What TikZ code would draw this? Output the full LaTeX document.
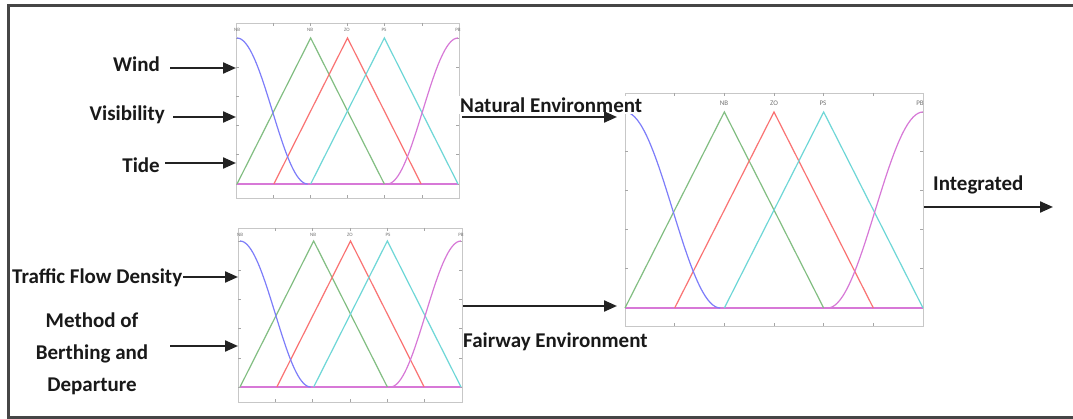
\documentclass[tikz,border=0pt]{standalone}
\usepackage{fontspec}
\setmainfont{Carlito}
\usetikzlibrary{arrows.meta}
\definecolor{mfB}{RGB}{125,125,250}
\definecolor{mfG}{RGB}{130,190,130}
\definecolor{mfR}{RGB}{250,115,115}
\definecolor{mfC}{RGB}{110,215,215}
\definecolor{mfM}{RGB}{215,120,215}
\definecolor{brd}{RGB}{70,70,70}
\definecolor{arrc}{RGB}{35,35,35}
\newcommand\mfplot[4]{% left, right, peak y, base y (px, y down)
  \pgfmathsetmacro\mfW{#2-#1}\pgfmathsetmacro\mfH{#4-#3}
  \draw[mfm] (#1,#4) -- (#2,#4);
  \draw[mfg] (#1,#4) -- ({#1+\mfW/3},#3) -- ({#1+2*\mfW/3},#4);
  \draw[mfr] ({#1+\mfW/6},#4) -- ({#1+\mfW/2},#3) -- ({#1+5*\mfW/6},#4);
  \draw[mfc] ({#1+\mfW/3},#4) -- ({#1+2*\mfW/3},#3) -- (#2,#4);
  \draw[mfb] plot[domain=0:0.32,samples=40,smooth] ({#1+\mfW*\x},{#4-\mfH*(0.5+0.5*cos(180*\x/0.32))});
  \draw[mfm] plot[domain=0:0.32,samples=40,smooth] ({#1+\mfW*(0.68+\x)},{#4-\mfH*(0.5-0.5*cos(180*\x/0.32))});
}
\newcommand\mfticks[6]{% left, right, top, bottom, peak, base
  \pgfmathsetmacro\mfW{#2-#1}\pgfmathsetmacro\mfH{#6-#5}
  \foreach \k in {1,...,5}{
    \draw[tick] ({#1+\mfW*\k/6},#3) -- ++(0,3);
    \draw[tick] ({#1+\mfW*\k/6},#4) -- ++(0,-3);
  }
  \foreach \k in {0,...,5}{
    \draw[tick] (#1,{#6-\mfH*\k/5}) -- ++(3,0);
    \draw[tick] (#2,{#6-\mfH*\k/5}) -- ++(-3,0);
  }
}
\begin{document}
\begin{tikzpicture}[x=1pt,y=-1pt,
  lbl/.style={font=\fontsize{21}{25}\selectfont\bfseries, inner sep=0pt, text=black!90},
  arr/.style={-{Triangle[length=13pt,width=11pt]}, line width=2.2pt, draw=arrc},
  chartframe/.style={draw=black!22, line width=0.8pt, inner sep=0pt},
  tick/.style={draw=black!35, line width=0.6pt},
  mfb/.style={draw=mfB, line width=1.2pt},
  mfg/.style={draw=mfG, line width=1.2pt},
  mfr/.style={draw=mfR, line width=1.2pt},
  mfc/.style={draw=mfC, line width=1.2pt},
  mfm/.style={draw=mfM, line width=1.2pt},
  tiny/.style={font=\fontsize{5}{6}\selectfont, text=black!55, inner sep=0pt},
  small/.style={font=\fontsize{7}{8}\selectfont, text=black!55, inner sep=0pt},
  border/.style={draw=brd, line width=3pt}
]
\useasboundingbox (0,0) rectangle (1073,419);
\fill[white] (0,0) rectangle (1073,419);
\draw[border] (1075,6) -- (8,6) -- (8,417) -- (1075,417);

% chart frames
\node[chartframe, anchor=north west, minimum width=223pt, minimum height=175pt] (chA) at (236,23) {};
\node[chartframe, anchor=north west, minimum width=224pt, minimum height=174pt] (chB) at (238,228) {};
\node[chartframe, anchor=north west, minimum width=298pt, minimum height=233pt] (chC) at (625,93) {};

\mfticks{236}{459}{23}{198}{38}{184}
\mfticks{238}{462}{228}{402}{241}{387}
\mfticks{625}{923}{93}{326}{112}{308}

\mfplot{237}{458}{38}{184}
\mfplot{240}{461}{241}{387}
\mfplot{625}{923}{112}{308}

% membership labels
\foreach \xx/\t in {237/NB,310/NB,347/ZO,384/PS,458/PB}{\node[tiny] (la\t\xx) at (\xx,30) {\t};}
\foreach \xx/\t in {240/NB,313/NB,350/ZO,388/PS,461/PB}{\node[tiny] (lb\t\xx) at (\xx,235) {\t};}
\foreach \xx/\t in {724/NB,774/ZO,823/PS,920/PB}{\node[small] (lc\t\xx) at (\xx,103) {\t};}

% input labels
\node[lbl, anchor=east] (wind) at (160,64) {Wind};
\node[lbl, anchor=east] (vis) at (165,115) {Visibility};
\node[lbl, anchor=east] (tide) at (160,165) {Tide};
\node[lbl, anchor=west] (tfd) at (12,278) {Traffic Flow Density};
\node[lbl, align=center, font=\fontsize{21}{32}\selectfont\bfseries] (meth) at (92,354) {Method of\\Berthing and\\Departure};
\node[lbl, anchor=west, fill=white, inner xsep=4pt, inner ysep=2pt] (nat) at (456,105) {Natural Environment};
\node[lbl, anchor=west] (fair) at (463,342) {Fairway Environment};
\node[lbl, anchor=west] (integ) at (933,185) {Integrated};

% arrow start points
\coordinate (windS) at (170,68);
\coordinate (visS) at (173,117);
\coordinate (tideS) at (165,163);
\coordinate (tfdS) at (183,277);
\coordinate (methS) at (170,346);
\coordinate (natS) at (462,117);
\coordinate (fairS) at (463,306);
\coordinate (intS) at (chC.east |- 0,207);
\coordinate (intE) at (1053,207);

\draw[arr] (windS) -- (windS -| chA.west);
\draw[arr] (visS) -- (visS -| chA.west);
\draw[arr] (tideS) -- (tideS -| chA.west);
\draw[arr] (tfdS) -- (tfdS -| chB.west);
\draw[arr] (methS) -- (methS -| chB.west);
\draw[arr, shorten >=8pt] (natS) -- (natS -| chC.west);
\draw[arr, shorten >=8pt] (fairS) -- (fairS -| chC.west);
\draw[arr] (intS) -- (intE);
\end{tikzpicture}
\end{document}
